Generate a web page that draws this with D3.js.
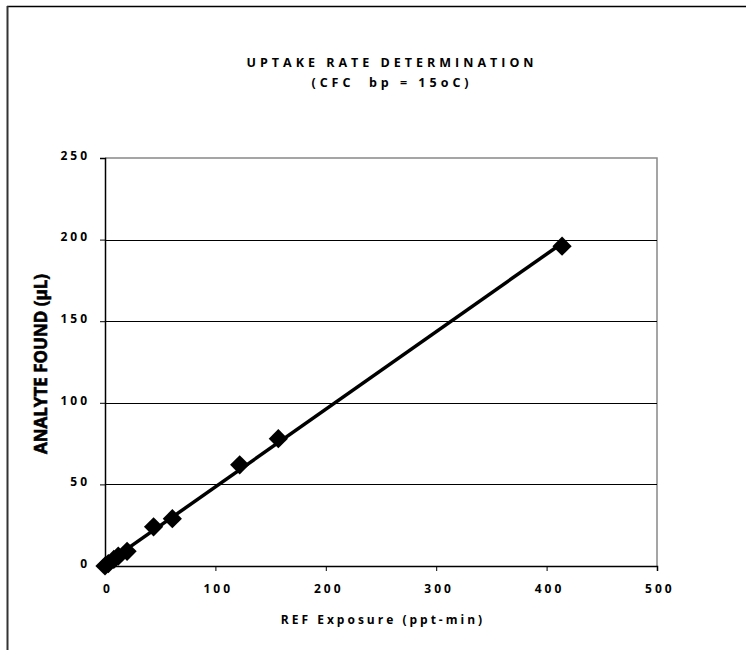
<!DOCTYPE html>
<html>
<head>
<meta charset="utf-8">
<script src="https://cdn.jsdelivr.net/npm/d3@7"></script>
<style>
  body { margin: 0; background: #fff; }
  text { font-family: "Open Sans", "Liberation Sans", sans-serif; font-weight: bold; fill: #000; white-space: pre; }
</style>
</head>
<body>
<svg id="chart" width="746" height="650"></svg>
<script>
// data
const exposure = [0, 3, 8, 12, 20, 44, 61, 122, 157, 414];   // ppt-min
const found = [0, 1.5, 4, 6, 9, 24, 29, 62, 78, 196];        // uL
const xTicks = [0, 100, 200, 300, 400, 500];
const yTicks = [0, 50, 100, 150, 200, 250];

const titleLines = ["UPTAKE RATE DETERMINATION", "(CFC\u00a0 bp = 15oC)"];
const xTitle = "REF Exposure (ppt-min)";
const yTitle = "ANALYTE FOUND (µL)";

const svg = d3.select("#chart");
const plotL = 105, plotR = 657, plotT = 158, plotB = 566;

const x = d3.scaleLinear().domain([0, 500]).range([plotL, plotR]);
const y = d3.scaleLinear().domain([0, 250]).range([plotB, plotT]);

// outer frame (only top and left edges show)
svg.append("line").attr("x1", 7).attr("x2", 746).attr("y1", 6.5).attr("y2", 6.5)
  .attr("stroke", "#000").attr("stroke-width", 1.5);
svg.append("line").attr("x1", 7.5).attr("x2", 7.5).attr("y1", 6).attr("y2", 650)
  .attr("stroke", "#333").attr("stroke-width", 2);

// plot frame top/right
svg.append("path")
  .attr("d", `M${plotL},${plotT}H${plotR}V${plotB}`)
  .attr("fill", "none").attr("stroke", "#888").attr("stroke-width", 1.5);

// gridlines
svg.append("g").selectAll("line")
  .data(yTicks.filter(d => d > 0 && d < 250))
  .join("line")
  .attr("x1", plotL).attr("x2", plotR)
  .attr("y1", d => Math.round(y(d)) + 0.5).attr("y2", d => Math.round(y(d)) + 0.5)
  .attr("stroke", "#000").attr("stroke-width", 1);

// axes
const yAxis = svg.append("g").attr("transform", `translate(${plotL},0)`)
  .call(d3.axisLeft(y).tickValues(yTicks).tickSize(5).tickPadding(10).tickFormat(d3.format("d")));
const xAxis = svg.append("g").attr("transform", `translate(0,${plotB})`)
  .call(d3.axisBottom(x).tickValues(xTicks).tickSize(5).tickPadding(13).tickFormat(d3.format("d")));

[xAxis, yAxis].forEach(g => {
  g.select(".domain").attr("stroke", "#000").attr("stroke-width", 1.5);
  g.selectAll(".tick line").attr("stroke", "#000");
  g.selectAll("text").attr("font-size", 12).attr("letter-spacing", "3px")
    .attr("font-family", "'Open Sans', sans-serif").attr("font-weight", "bold");
});
yAxis.selectAll(".tick text").attr("dy", "0.1em");
xAxis.selectAll(".tick text").attr("dx", "0.2em");

// least-squares trend line through the points
const mx = d3.mean(exposure), my = d3.mean(found);
const slope = d3.sum(exposure, (v, i) => (v - mx) * (found[i] - my)) /
              d3.sum(exposure, v => (v - mx) * (v - mx));
const icpt = my - slope * mx;
const xr = d3.extent(exposure);
svg.append("path")
  .datum(xr.map(v => [v, icpt + slope * v]))
  .attr("d", d3.line().x(d => x(d[0])).y(d => y(d[1])))
  .attr("stroke", "#000").attr("stroke-width", 3.5).attr("fill", "none");

// diamond markers
const diamond = d3.symbol().type(d3.symbolSquare).size(185);
svg.append("g").selectAll("path")
  .data(exposure.map((v, i) => [v, found[i]]))
  .join("path")
  .attr("d", diamond)
  .attr("transform", d => `translate(${x(d[0])},${y(d[1])}) rotate(45)`)
  .attr("fill", "#000");

// titles
svg.append("g").selectAll("text")
  .data(titleLines)
  .join("text")
  .attr("x", 392).attr("y", (d, i) => 67 + i * 20)
  .attr("text-anchor", "middle")
  .attr("font-size", 12.5).attr("letter-spacing", "4px")
  .text(d => d);

svg.append("text")
  .attr("x", 383).attr("y", 624)
  .attr("text-anchor", "middle")
  .attr("font-size", 12).attr("letter-spacing", "3px")
  .text(xTitle);

svg.append("text")
  .attr("transform", "translate(47,364) rotate(-90)")
  .attr("text-anchor", "middle")
  .attr("font-family", "'DejaVu Sans Condensed', 'DejaVu Sans', sans-serif")
  .attr("font-size", 17)
  .attr("font-weight", "bold")
  .attr("stroke", "#000").attr("stroke-width", 0.6)
  .text(yTitle);
</script>
</body>
</html>
